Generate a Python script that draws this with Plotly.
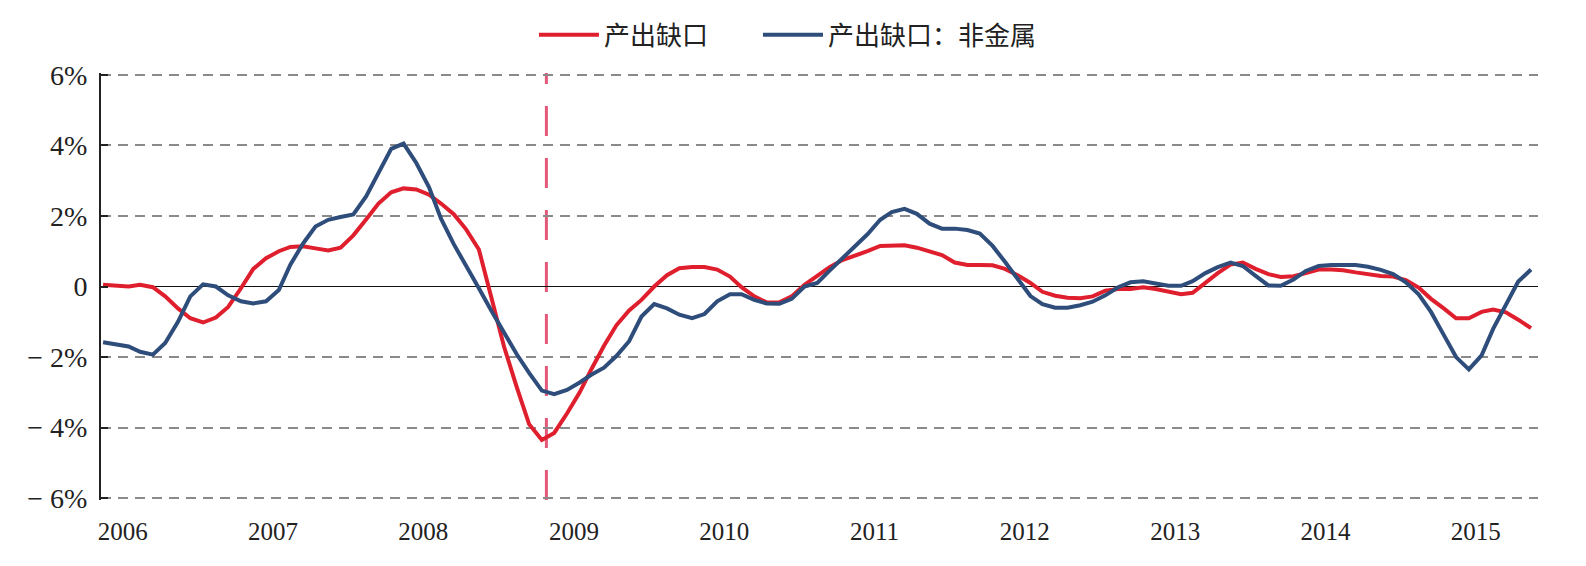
import pandas as pd
import plotly.graph_objects as go

# Monthly observations, Dec 2005 .. Jun 2015
months = [d.strftime("%Y-%m-%d") for d in pd.date_range("2005-12-01", periods=115, freq="MS")]

output_gap = [
    0.05, 0.02, 0.0, 0.05, -0.02, -0.28, -0.62, -0.9, -1.02, -0.88,
    -0.58, -0.05, 0.5, 0.8, 1.0, 1.12, 1.14, 1.08, 1.02, 1.1,
    1.45, 1.9, 2.35, 2.67, 2.78, 2.75, 2.6, 2.35, 2.05, 1.62,
    1.05, -0.3, -1.7, -2.85, -3.9, -4.35, -4.15, -3.6, -3.0, -2.35,
    -1.68, -1.1, -0.68, -0.38, 0.0, 0.32, 0.52, 0.55, 0.55, 0.48,
    0.28, -0.02, -0.28, -0.45, -0.45, -0.28, 0.05, 0.3, 0.55, 0.75,
    0.86, 1.0, 1.15, 1.17, 1.17, 1.1, 1.0, 0.89, 0.68, 0.61,
    0.61, 0.6, 0.5, 0.32, 0.1, -0.15, -0.26, -0.32, -0.33, -0.28,
    -0.12, -0.07, -0.07, -0.02, -0.07, -0.15, -0.22, -0.18, 0.1, 0.38,
    0.62, 0.68, 0.5, 0.35, 0.27, 0.29, 0.38, 0.48, 0.48, 0.46,
    0.4, 0.34, 0.3, 0.28, 0.18, -0.03, -0.35, -0.62, -0.9, -0.9,
    -0.72, -0.65, -0.73, -0.94, -1.18,
]

output_gap_nonmetal = [
    -1.58, -1.63, -1.7, -1.85, -1.93, -1.6, -1.0, -0.28, 0.06, 0.0,
    -0.25, -0.42, -0.48, -0.42, -0.1, 0.62, 1.22, 1.7, 1.89, 1.97,
    2.04, 2.55, 3.23, 3.9, 4.05, 3.5, 2.81, 1.92, 1.2, 0.6,
    -0.05, -0.68, -1.3, -1.92, -2.45, -2.95, -3.05, -2.93, -2.72, -2.5,
    -2.3, -1.97, -1.55, -0.85, -0.5, -0.62, -0.8, -0.9, -0.78, -0.42,
    -0.22, -0.22, -0.38, -0.48, -0.49, -0.35, 0.0, 0.1, 0.45, 0.8,
    1.12, 1.48, 1.89, 2.11, 2.2, 2.06, 1.78, 1.64, 1.64, 1.6,
    1.5, 1.15, 0.7, 0.2, -0.27, -0.5, -0.6, -0.6, -0.53, -0.43,
    -0.25, -0.02, 0.12, 0.15, 0.1, 0.02, 0.02, 0.15, 0.38, 0.55,
    0.68, 0.58, 0.3, 0.03, 0.02, 0.2, 0.44, 0.58, 0.61, 0.61,
    0.61, 0.56, 0.47, 0.35, 0.12, -0.22, -0.72, -1.37, -2.0, -2.35,
    -1.95, -1.2, -0.5, 0.14, 0.48,
]

series_names = ["产出缺口", "产出缺口：非金属"]
year_labels = ["2006", "2007", "2008", "2009", "2010", "2011", "2012", "2013", "2014", "2015"]
year_tick_positions = [y + "-01-18" for y in year_labels]
y_tickvals = [-6, -4, -2, 0, 2, 4, 6]
y_ticktext = ["− 6%", "− 4%", "− 2%", "0", "2%", "4%", "6%"]
event_date = "2008-11-12"
x_range = ["2005-11-26", "2015-06-18"]

RED = "#df1f2d"
BLUE = "#2e4d7b"

fig = go.Figure()
fig.add_trace(go.Scatter(x=months, y=output_gap, mode="lines", name=series_names[0],
                         line=dict(color=RED, width=4), legend="legend"))
fig.add_trace(go.Scatter(x=months, y=output_gap_nonmetal, mode="lines", name=series_names[1],
                         line=dict(color=BLUE, width=4), legend="legend2"))

fig.add_shape(type="line", xref="x", yref="paper", x0=event_date, x1=event_date,
              y0=0.0, y1=1.0, line=dict(color="#e4587a", width=3, dash="30px,22px"), layer="below")

legend_style = dict(orientation="h", xanchor="left", y=1.087, yanchor="middle",
                    font=dict(family="Noto Sans CJK SC", size=26, color="#222222"),
                    itemwidth=60, bgcolor="rgba(0,0,0,0)")

fig.update_layout(
    width=1586, height=566,
    margin=dict(l=101, r=48, t=72, b=66),
    paper_bgcolor="white", plot_bgcolor="white",
    font=dict(family="Liberation Serif", color="#222222"),
    showlegend=True,
    legend=dict(x=0.3013, **legend_style),
    legend2=dict(x=0.4572, **legend_style),
    xaxis=dict(type="date", range=x_range, tickvals=year_tick_positions, ticktext=year_labels,
               showgrid=False, zeroline=False, showline=False, ticks="",
               tickfont=dict(family="Liberation Serif", size=25, color="#222222"),
               ticklabelstandoff=14),
    yaxis=dict(range=[-6.05, 6.05], tickvals=y_tickvals, ticktext=y_ticktext,
               showgrid=True, gridcolor="#8a8a8a", gridwidth=1.5, griddash="10px,7px",
               zeroline=True, zerolinecolor="#111111", zerolinewidth=1.3,
               showline=True, linecolor="#222222", linewidth=2,
               ticks="inside", ticklen=7, tickwidth=2, tickcolor="#222222",
               tickfont=dict(family="Liberation Serif", size=28, color="#222222"),
               ticklabelstandoff=6),
)

fig.write_html("out.html")
